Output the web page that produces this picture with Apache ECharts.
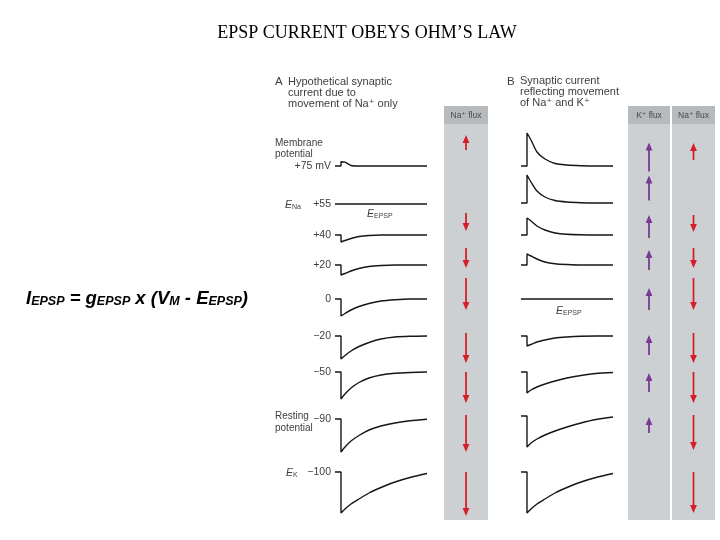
<!DOCTYPE html>
<html>
<head>
<meta charset="utf-8">
<script src="https://cdn.jsdelivr.net/npm/echarts@6/dist/echarts.min.js"></script>
<style>
  html, body { margin: 0; padding: 0; background: #fff; }
  #chart { width: 720px; height: 540px; }
</style>
</head>
<body>
<div id="chart"></div>
<script>
// membrane potential of each row (mV)
const potentials = [75, 55, 40, 20, 0, -20, -50, -90, -100]
// sample times along every trace, synaptic step at t = 6
const traceTime = [0, 6, 6, 10, 16, 24, 34, 46, 60, 75, 92]

// A: current carried by Na+ only (up = outward)
const currentA = [
  [0, 0, 4.3, 3.8, 0.5, 0, 0, 0, 0, 0, 0],
  [0, 0, 0, 0, 0, 0, 0, 0, 0, 0, 0],
  [0, 0, -7, -5.5, -3.5, -1.5, -0.5, 0, 0, 0, 0],
  [0, 0, -10, -8.5, -6, -3.5, -1.5, -0.5, 0, 0, 0],
  [0, 0, -17, -14.5, -11, -7.5, -4.5, -2, -0.7, 0, 0],
  [0, 0, -23, -19.5, -15, -10.5, -6.5, -3, -1, -0.3, 0],
  [0, 0, -27, -22, -16, -10.5, -6, -3, -1.3, -0.5, 0],
  [0, 0, -33, -28, -22, -16.5, -11, -7, -4, -1.8, -0.3],
  [0, 0, -41, -37, -32, -27, -21, -15.5, -10, -5.5, -1.5]
]
// B: current carried by Na+ and K+
const currentB = [
  [0, 0, 33, 26, 14, 7, 2.5, 1, 0.3, 0, 0],
  [0, 0, 28, 21, 12, 6, 2.5, 1, 0.3, 0, 0],
  [0, 0, 17, 14, 9, 5, 2, 0.7, 0.2, 0, 0],
  [0, 0, 11, 9, 6, 3, 1.3, 0.5, 0, 0, 0],
  [0, 0, 0, 0, 0, 0, 0, 0, 0, 0, 0],
  [0, 0, -10, -8.5, -6, -4, -2, -1, -0.3, 0, 0],
  [0, 0, -21, -18, -15, -12, -9, -6, -3.5, -1.5, -0.5],
  [0, 0, -31, -27, -23, -19, -15, -11, -7, -3.5, -1],
  [0, 0, -41, -37, -32, -27, -21, -15.5, -10, -5.5, -1.5]
]
// ion flux arrows (length, + = outward/up)
const naFluxA = [15, 0, -18, -20, -32, -30, -31, -37, -44]
const kFluxB = [29, 25, 23, 20, 22, 20, 19, 16, 0]
const naFluxB = [17, 0, -17, -20, -32, -30, -31, -35, -41]

// layout: baseline of each row and arrow centres (px)
const rowsA = [166, 204, 235, 265, 299, 336, 372, 419, 472]
const rowsB = [166, 203, 235, 265, 299, 336, 372, 416, 472]
const naMidA = [142.5, 0, 222, 258, 294, 348, 387.5, 433.5, 494]
const kMidB = [157, 188, 226.5, 260, 299, 345, 382.5, 425, 0]
const naMidB = [151.5, 0, 223.5, 258, 294, 348, 387.5, 432.5, 492.5]

const SANS = 'Liberation Sans, DejaVu Sans, sans-serif'
const INK = '#3e3e3e'

const grids = [], xAxes = [], yAxes = [], series = []

function potLabel(v, i) {
  const s = v > 0 ? '+' + v : v < 0 ? '\u2212' + (-v) : '0'
  return i === 0 ? s + ' mV' : s
}

function addTraces(cur, left, rows, withLabels) {
  cur.forEach((vals, i) => {
    const k = grids.length
    grids.push({ left: left, top: rows[i] - 35, width: 92, height: 80, containLabel: false })
    xAxes.push({ gridIndex: k, type: 'value', min: 0, max: 92, show: false })
    yAxes.push({
      gridIndex: k, type: 'value', min: -45, max: 35, interval: 5,
      show: withLabels,
      axisLine: { show: false }, axisTick: { show: false }, splitLine: { show: false },
      axisLabel: {
        show: withLabels, margin: 4, fontSize: 10.5, fontFamily: SANS, color: INK,
        formatter: v => (v === 0 ? potLabel(potentials[i], i) : '')
      }
    })
    series.push({
      type: 'line', xAxisIndex: k, yAxisIndex: k,
      data: traceTime.map((t, j) => [t, vals[j]]),
      showSymbol: false, smooth: 0.25, silent: true, animation: false,
      lineStyle: { color: '#161616', width: 1.4 }
    })
  })
}

addTraces(currentA, 335, rowsA, true)
addTraces(currentB, 521, rowsB, false)

function arrowRender(color, mids) {
  return function (params, api) {
    const flux = api.value(1)
    const row = api.value(2)
    if (!flux) return
    const cx = api.coord([0, 0])[0]
    const len = api.size([0, Math.abs(flux)])[1]
    const dir = flux > 0 ? -1 : 1
    const tail = mids[row] - dir * len / 2
    const head = mids[row] + dir * len / 2
    const hl = 8, hw = 3.4
    return {
      type: 'group',
      children: [
        { type: 'line', shape: { x1: cx, y1: tail, x2: cx, y2: head - dir * hl * 0.6 },
          style: { stroke: color, lineWidth: 1.8 } },
        { type: 'polygon', shape: { points: [[cx, head], [cx - hw, head - dir * hl], [cx + hw, head - dir * hl]] },
          style: { fill: color } }
      ]
    }
  }
}

function addFlux(flux, left, width, color, mids) {
  const k = grids.length
  grids.push({ left: left, top: 124, width: width, height: 396, show: true,
    backgroundColor: '#cdd0d3', borderWidth: 0, containLabel: false })
  xAxes.push({ gridIndex: k, type: 'category', data: ['flux'], show: false })
  yAxes.push({ gridIndex: k, type: 'value', min: 0, max: 396, show: false })
  series.push({
    type: 'custom', xAxisIndex: k, yAxisIndex: k, silent: true, animation: false,
    encode: { x: 0, y: 1 },
    data: flux.map((f, i) => [0, f, i]),
    renderItem: arrowRender(color, mids)
  })
}

addFlux(naFluxA, 444, 44, '#d41f2a', naMidA)
addFlux(kFluxB, 628, 42, '#7a3a92', kMidB)
addFlux(naFluxB, 672, 43, '#d41f2a', naMidB)

function txt(text, x, y, opt) {
  return {
    type: 'text', silent: true,
    style: Object.assign({ text: text, x: x, y: y, fill: INK, fontSize: 11, fontFamily: SANS,
      textAlign: 'left', textVerticalAlign: 'middle' }, opt || {})
  }
}
function header(text, left, width) {
  return [
    { type: 'rect', silent: true, shape: { x: left, y: 106, width: width, height: 18 }, style: { fill: '#b7babd' } },
    txt(text, left + width / 2, 115.5, { textAlign: 'center', fontSize: 8.5, fill: '#4a4a4a' })
  ]
}
const subRich = {
  e: { fontSize: 10.5, fontStyle: 'italic', fontFamily: SANS, fill: INK, lineHeight: 14, verticalAlign: 'bottom' },
  s: { fontSize: 7, fontFamily: SANS, fill: INK, lineHeight: 9, verticalAlign: 'bottom' }
}
function sub(text, x, y) {
  return txt(text, x, y, { rich: subRich })
}

const eqRich = {
  m: { fontSize: 18.5, fontWeight: 'bold', fontStyle: 'italic', fontFamily: SANS, fill: '#000', lineHeight: 22, verticalAlign: 'bottom' },
  s: { fontSize: 12.5, fontWeight: 'bold', fontStyle: 'italic', fontFamily: SANS, fill: '#000', lineHeight: 12, verticalAlign: 'bottom' }
}

const elements = [
  txt('EPSP CURRENT OBEYS OHM\u2019S LAW', 367, 33, { textAlign: 'center', fontSize: 18,
    fontFamily: 'Liberation Serif, DejaVu Serif, serif', fill: '#000' }),
  txt('{m|I}{s|EPSP}{m| = g}{s|EPSP}{m| x (V}{s|M}{m| - E}{s|EPSP}{m|)}', 26, 297, { rich: eqRich }),
  txt('A', 275, 82, { fontSize: 11.5 }),
  txt('Hypothetical synaptic', 288, 82),
  txt('current due to', 288, 93),
  txt('movement of Na\u207A only', 288, 104),
  txt('B', 507, 82, { fontSize: 11.5 }),
  txt('Synaptic current', 520, 81),
  txt('reflecting movement', 520, 92),
  txt('of Na\u207A and K\u207A', 520, 103),
  txt('Membrane', 275, 143, { fontSize: 10 }),
  txt('potential', 275, 154, { fontSize: 10 }),
  txt('Resting', 275, 416, { fontSize: 10 }),
  txt('potential', 275, 428, { fontSize: 10 }),
  sub('{e|E}{s|Na}', 285, 204),
  sub('{e|E}{s|EPSP}', 367, 213),
  sub('{e|E}{s|EPSP}', 556, 310),
  sub('{e|E}{s|K}', 286, 472)
].concat(header('Na\u207A flux', 444, 44), header('K\u207A flux', 628, 42), header('Na\u207A flux', 672, 43))

const chart = echarts.init(document.getElementById('chart'))
chart.setOption({
  backgroundColor: '#fff',
  animation: false,
  grid: grids,
  xAxis: xAxes,
  yAxis: yAxes,
  series: series,
  graphic: { elements: elements }
})
</script>
</body>
</html>
